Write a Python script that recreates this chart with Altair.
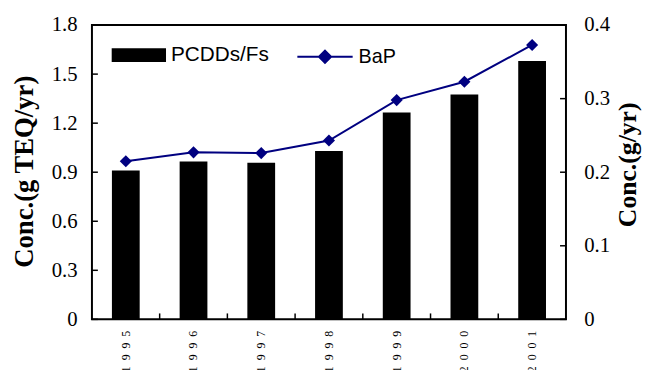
import altair as alt
import pandas as pd

years = ['1995', '1996', '1997', '1998', '1999', '2000', '2001']
pcdd = [0.91, 0.965, 0.958, 1.03, 1.265, 1.375, 1.58]
bap = [0.215, 0.227, 0.226, 0.243, 0.298, 0.323, 0.373]
left_ticks = [0, 0.3, 0.6, 0.9, 1.2, 1.5, 1.8]
right_ticks = [0, 0.1, 0.2, 0.3, 0.4]
series = ['PCDDs/Fs', 'BaP']

SP = '\u2002'
year_labels = [SP.join(y) for y in years]

df = pd.DataFrame({'year': year_labels, 'pcdd': pcdd, 'bap': bap})
lt = pd.DataFrame({'v': left_ticks})
rt = pd.DataFrame({'v': right_ticks})
xt = pd.DataFrame({'year': year_labels[1:]})

W, H = 480, 298
NAVY = '#000080'
xscale = alt.Scale(domain=year_labels, paddingInner=0, paddingOuter=0)
lscale = alt.Scale(domain=[0, 1.8], nice=False)
rscale = alt.Scale(domain=[0, 0.4], nice=False)

xaxis = alt.Axis(title=None, labelAngle=270, labelOverlap=False,
                 labelFont='Liberation Serif', labelFontSize=12, labelColor='black',
                 labelPadding=11, ticks=False, domain=False, grid=False)

laxis = alt.Axis(title='Conc.(g TEQ/yr)', values=left_ticks, format='.1f',
                 labelExpr="datum.value == 0 ? '0' : datum.label", labelOverlap=False,
                 labelFont='Liberation Serif', labelFontSize=21, labelColor='black',
                 labelPadding=15, ticks=False, domain=False, grid=False,
                 titleFont='Liberation Serif', titleFontSize=27, titleFontWeight='bold',
                 titleColor='black', titleAngle=270, titleX=-68, titleY=148,
                 titleAlign='center', titleBaseline='middle')

raxis = alt.Axis(title='Conc.(g/yr)', orient='right', values=right_ticks, format='.1f',
                 labelExpr="datum.value == 0 ? '0' : datum.label", labelOverlap=False,
                 labelFont='Liberation Serif', labelFontSize=21, labelColor='black',
                 labelPadding=18, ticks=False, domain=False, grid=False,
                 titleFont='Liberation Serif', titleFontSize=26, titleFontWeight='bold',
                 titleColor='black', titleAngle=270, titleX=62, titleY=141,
                 titleAlign='center', titleBaseline='middle')


def xenc(**kw):
    return alt.X('year:N', scale=xscale, sort=year_labels, axis=xaxis, **kw)


bars = alt.Chart(df).transform_calculate(s1=f"'{series[0]}'").mark_bar(
    width={'band': 0.41}).encode(
    x=xenc(),
    y=alt.Y('pcdd:Q', scale=lscale, axis=laxis),
    fill=alt.Fill('s1:N', scale=alt.Scale(domain=[series[0]], range=['#000000']),
                  legend=alt.Legend(title=None, orient='none', legendX=20, legendY=3,
                                    direction='horizontal', padding=0,
                                    symbolType='M-1,-0.255H1V0.255H-1Z', symbolSize=3025,
                                    symbolStrokeWidth=0, symbolOpacity=1,
                                    labelFont='Liberation Sans', labelFontSize=21,
                                    labelColor='black', labelOffset=5))
)

lticks = alt.Chart(lt).mark_rule(color='black', strokeWidth=1.5).encode(
    y=alt.Y('v:Q', scale=lscale, axis=None),
    x=alt.value(0), x2=alt.value(6))

xticks = alt.Chart(xt).mark_rule(color='black', strokeWidth=1.5).encode(
    x=xenc(bandPosition=0),
    y=alt.value(H), y2=alt.value(H - 6))

line = alt.Chart(df).transform_calculate(s2=f"'{series[1]}'").mark_line(strokeWidth=2).encode(
    x=xenc(),
    y=alt.Y('bap:Q', scale=rscale, axis=raxis),
    stroke=alt.Stroke('s2:N', scale=alt.Scale(domain=[series[1]], range=[NAVY]),
                      legend=alt.Legend(title=None, orient='none', legendX=207, legendY=3,
                                        direction='horizontal', padding=0,
                                        symbolType='M-1,0H1M0,-0.22L0.22,0L0,0.22L-0.22,0Z',
                                        symbolSize=3136, symbolStrokeWidth=2,
                                        symbolFillColor=NAVY, symbolOpacity=1,
                                        labelFont='Liberation Sans', labelFontSize=20,
                                        labelColor='black', labelOffset=5))
)

points = alt.Chart(df).mark_point(shape='diamond', filled=True, size=150,
                                  color=NAVY, opacity=1).encode(
    x=xenc(),
    y=alt.Y('bap:Q', scale=rscale, axis=None))

rticks = alt.Chart(rt).mark_rule(color='black', strokeWidth=1.5).encode(
    y=alt.Y('v:Q', scale=rscale, axis=None),
    x=alt.value(W - 6), x2=alt.value(W))

chart = alt.layer(bars, lticks, xticks, line, points, rticks).resolve_scale(
    y='independent').properties(
    width=W, height=H,
    autosize=alt.AutoSizeParams(type='none'),
    padding={'left': 85, 'top': 15, 'right': 78, 'bottom': 49},
    background='white'
).configure_view(stroke='black', strokeWidth=2)

chart.save("out.html", embed_options={"renderer": "svg", "actions": False})
